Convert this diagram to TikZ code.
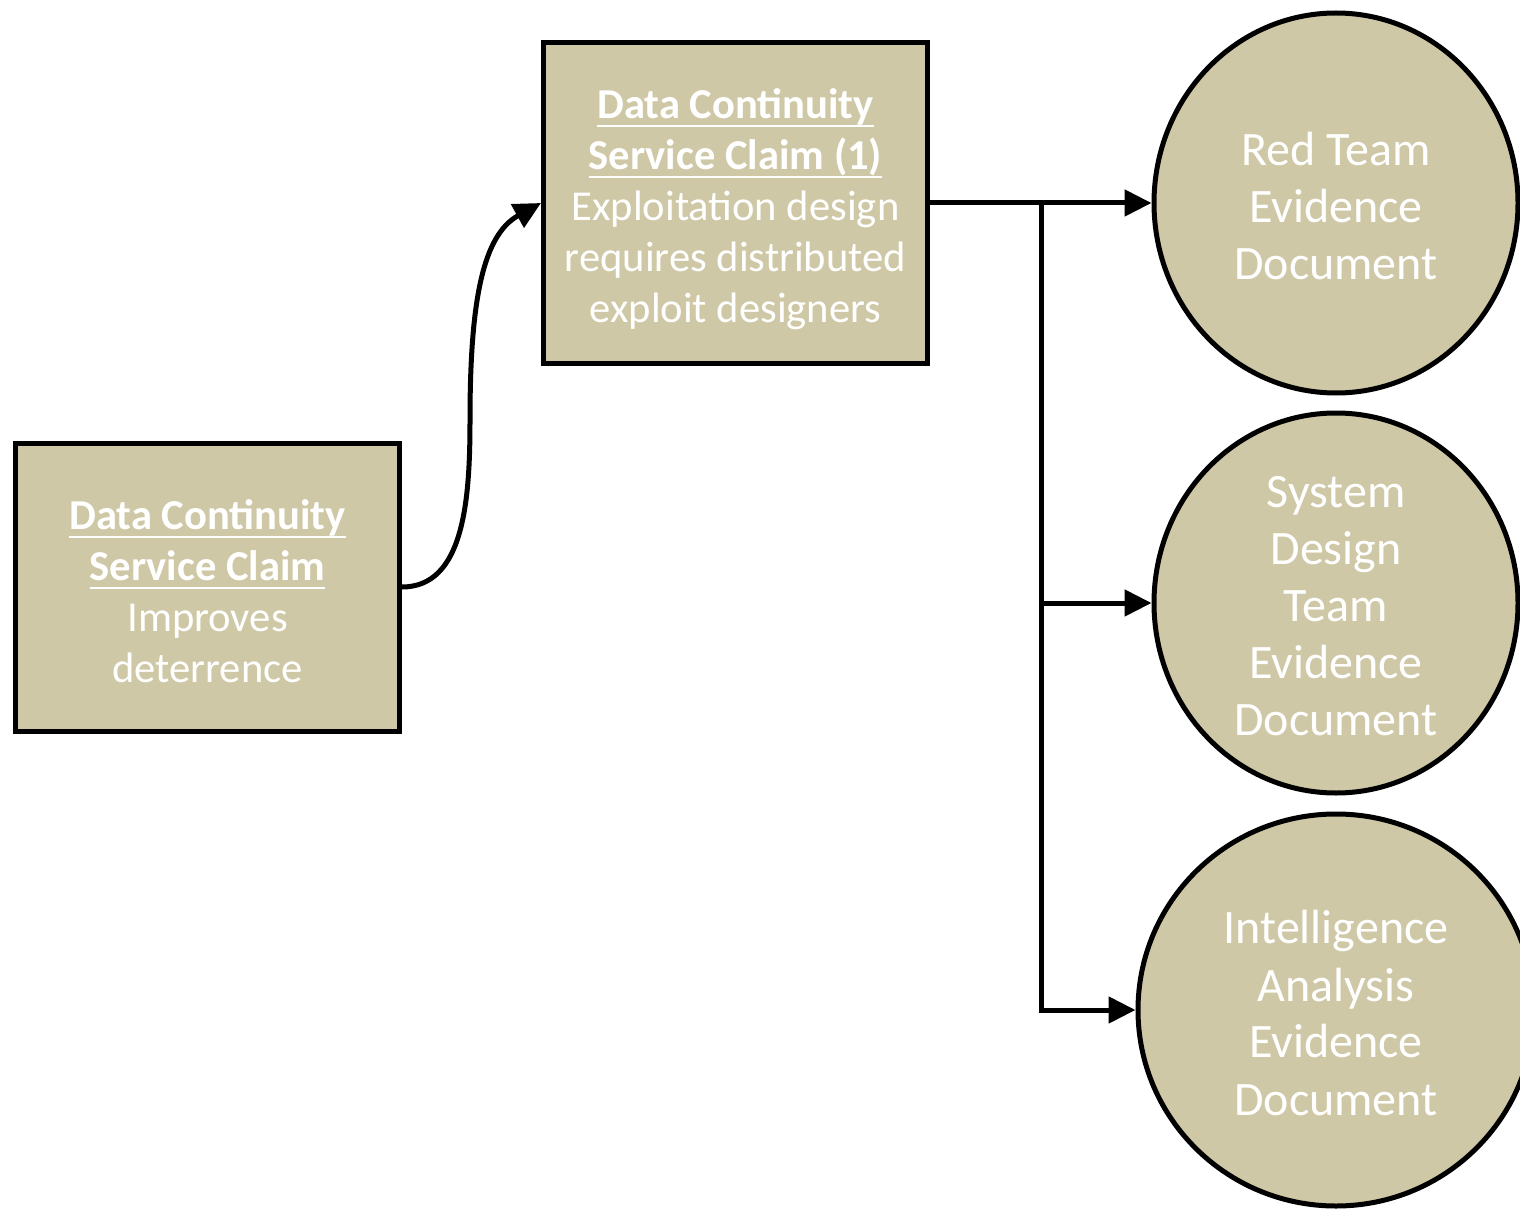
\documentclass[tikz,border=0pt]{standalone}
\usepackage{fontspec}
\setmainfont{Carlito}
\usetikzlibrary{shapes.geometric,arrows.meta}
\definecolor{claimtan}{HTML}{CFC8A6}
% bold title with a heavy underline rule
\newsavebox{\titlebox}
\newcommand{\claimtitle}[1]{%
  \sbox{\titlebox}{\textbf{#1}}%
  \rlap{\rule[-4.4pt]{\wd\titlebox}{1.3pt}}\usebox{\titlebox}}

\tikzset{
  claimbox/.style={draw=black, line width=2.5pt, fill=claimtan,
    minimum width=192pt, inner sep=0pt},
  claimtext/.style={text=white, align=center, inner sep=0pt,
    font=\fontsize{21.3}{25.5}\selectfont},
  evidence/.style={ellipse, draw=black, line width=2.5pt, fill=claimtan, inner sep=0pt},
  evidencetext/.style={text=white, align=center, inner sep=0pt,
    font=\fontsize{24}{28.5}\selectfont},
  link/.style={line width=2.5pt, draw=black},
  conn/.style={link, -{Triangle[length=13.5pt,width=13pt]}},
}

\begin{document}
\begin{tikzpicture}[x=0.5pt,y=-0.5pt]
  \useasboundingbox (0,0) rectangle (1520,1209);
  \clip (0,0) rectangle (1520,1209);

  % claim boxes
  \node[claimbox, minimum height=144pt] (A) at (207.5,587) {};
  \node[claimtext] (Atext) at (207.5,591)
    {\claimtitle{Data Continuity}\\
     \claimtitle{Service Claim}\\
     Improves\\ deterrence};
  \node[claimbox, minimum height=160pt] (B) at (735.5,203) {};
  \node[claimtext] (Btext) at (735.5,209)
    {\claimtitle{Data Continuity}\\
     \claimtitle{Service Claim (1)}\\
     Exploitation design\\ requires distributed\\ exploit designers};

  % evidence documents
  \node[evidence, minimum width=182pt, minimum height=190pt] (C1) at (1336,203) {};
  \node[evidencetext] (C1text) at (1336,206)
    {Red Team\\ Evidence\\ Document};
  \node[evidence, minimum width=182pt, minimum height=190pt] (C2) at (1336,603) {};
  \node[evidencetext] (C2text) at (1336,606)
    {System\\ Design\\ Team\\ Evidence\\ Document};
  \node[evidence, minimum width=198pt, minimum height=196pt] (C3) at (1336,1010) {};
  \node[evidencetext] (C3text) at (1336,1013)
    {Intelligence\\ Analysis\\ Evidence\\ Document};

  % junction points on the distribution trunk, and the bend of the curved link
  \coordinate (j1) at (1041,203);
  \coordinate (j2) at (1041,603);
  \coordinate (bend) at (470,420);

  % connectors
  \draw[conn] (A.east) .. controls +(62,0) and +(0,80) .. (bend)
                       .. controls +(0,-120) and +(-58,32) .. (B.west);
  \draw[conn] (B.east) -- (C1.west);
  \draw[conn] (j1) |- (C3.west);
  \draw[conn] (j2) -- (C2.west);
\end{tikzpicture}
\end{document}
